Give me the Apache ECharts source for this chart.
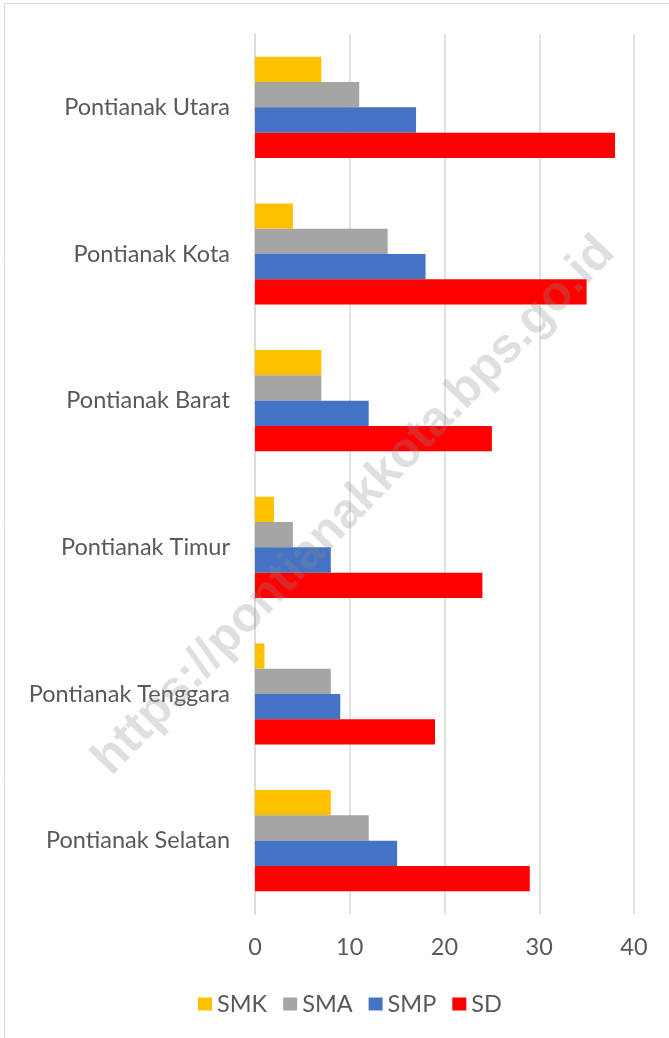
<!DOCTYPE html>
<html>
<head>
<meta charset="utf-8">
<script src="https://cdn.jsdelivr.net/npm/echarts@6.0.0/dist/echarts.min.js"></script>
<style>
  html, body { margin: 0; padding: 0; background: #fff; }
  #chart { width: 669px; height: 1038px; }
</style>
</head>
<body>
<div id="chart"></div>
<script>
// kategori (atas ke bawah)
const kecamatan = ['Pontianak Utara', 'Pontianak Kota', 'Pontianak Barat', 'Pontianak Timur', 'Pontianak Tenggara', 'Pontianak Selatan'];
// jumlah sekolah per jenjang
const smk = [7, 4, 7, 2, 1, 8];
const sma = [11, 14, 7, 4, 8, 12];
const smp = [17, 18, 12, 8, 9, 15];
const sd = [38, 35, 25, 24, 19, 29];
const xTicks = [0, 10, 20, 30, 40];

const fontFamily = 'Lato, "Open Sans", sans-serif';
const fontSize = 23.5;
const textColor = '#595959';

const myChart = echarts.init(document.getElementById('chart'));

function bar(name, data, color) {
  return {
    name: name,
    type: 'bar',
    data: data,
    barGap: '0%',
    barCategoryGap: '31%',
    itemStyle: { color: color }
  };
}

const option = {
  backgroundColor: '#fff',
  animation: false,
  grid: {
    left: 255,
    right: 35,
    top: 34,
    bottom: 124,
    containLabel: false
  },
  legend: {
    top: 987,
    left: 193,
    itemWidth: 14,
    itemHeight: 13,
    itemGap: 16,
    icon: 'rect',
    textStyle: { color: textColor, fontSize: fontSize, fontFamily: fontFamily },
    data: ['SMK', 'SMA', 'SMP', 'SD']
  },
  xAxis: {
    type: 'value',
    min: xTicks[0],
    max: xTicks[xTicks.length - 1],
    interval: 10,
    axisLine: { show: false },
    axisTick: { show: false },
    splitLine: { lineStyle: { color: '#d9d9d9', width: 1.5 } },
    axisLabel: { color: textColor, fontSize: fontSize, fontFamily: fontFamily, margin: 21 }
  },
  yAxis: {
    type: 'category',
    inverse: true,
    data: kecamatan,
    axisLine: { show: true, lineStyle: { color: '#d9d9d9', width: 1.5 } },
    axisTick: { show: false },
    axisLabel: { color: textColor, fontSize: fontSize, fontFamily: fontFamily, margin: 25 }
  },
  series: [
    bar('SMK', smk, '#ffc000'),
    bar('SMA', sma, '#a5a5a5'),
    bar('SMP', smp, '#4472c4'),
    bar('SD', sd, '#ff0000')
  ],
  graphic: [
    // bingkai
    {
      type: 'rect',
      shape: { x: 4.5, y: 3.5, width: 700, height: 1100 },
      style: { fill: 'none', stroke: '#d9d9d9', lineWidth: 1 },
      silent: true
    },
    // watermark
    {
      type: 'text',
      x: 354,
      y: 506,
      rotation: 46 * Math.PI / 180,
      z: 100,
      silent: true,
      style: {
        text: 'https://pontianakkota.bps.go.id',
        font: 'bold 49px "Liberation Sans", Arial, sans-serif',
        fill: 'rgba(140,140,140,0.28)',
        align: 'center',
        verticalAlign: 'middle'
      }
    }
  ]
};

myChart.setOption(option);
</script>
</body>
</html>
